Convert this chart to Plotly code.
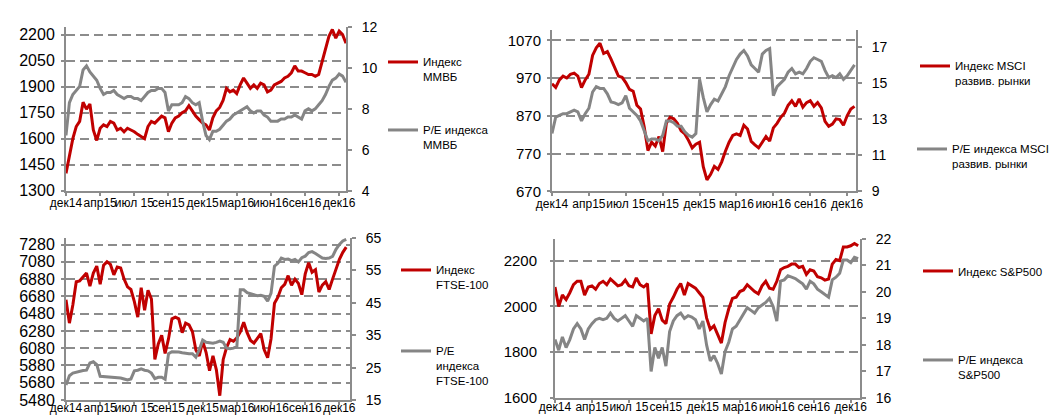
import plotly.graph_objects as go

# ---------------- data ----------------
tick_labels = ["дек14", "апр15", "июл 15", "сен15", "дек15", "мар16", "июн16", "сен16", "дек16"]
tick_pos = [0, 10, 20, 30, 40, 50, 60, 70, 80]

mmvb_index = [1400, 1500, 1600, 1670, 1700, 1810, 1770, 1800, 1650, 1590,
              1660, 1680, 1670, 1700, 1690, 1650, 1660, 1640, 1660, 1650,
              1640, 1625, 1610, 1600, 1670, 1700, 1690, 1710, 1730, 1720,
              1640, 1690, 1720, 1730, 1750, 1760, 1790, 1760, 1730, 1710,
              1690, 1680, 1650, 1720, 1760, 1780, 1820, 1890, 1870, 1880,
              1860, 1910, 1950, 1920, 1890, 1910, 1890, 1920, 1910, 1870,
              1880, 1910, 1920, 1930, 1950, 1960, 1980, 2020, 1990, 1990,
              1980, 1970, 1970, 1960, 1970, 2040, 2120, 2190, 2230, 2180,
              2220, 2200, 2150]
mmvb_pe = [6.7, 8.3, 8.7, 8.9, 9.1, 9.9, 10.1, 9.8, 9.6, 9.4,
           9.0, 8.7, 8.8, 8.8, 8.9, 8.7, 8.6, 8.5, 8.6, 8.6,
           8.5, 8.5, 8.4, 8.6, 8.8, 8.9, 8.9, 9.0, 9.0, 8.8,
           7.9, 8.2, 8.2, 8.2, 8.3, 8.6, 8.5, 8.3, 8.2, 8.3,
           7.4, 6.7, 6.5, 6.9, 6.9, 7.0, 7.2, 7.4, 7.5, 7.7,
           7.8, 7.9, 8.0, 8.1, 7.9, 7.8, 7.9, 7.9, 7.7, 7.6,
           7.4, 7.4, 7.4, 7.5, 7.5, 7.6, 7.6, 7.7, 7.6, 7.5,
           7.9, 8.0, 7.9, 8.0, 8.2, 8.4, 8.7, 9.1, 9.4, 9.5,
           9.7, 9.6, 9.3]

msci_index = [955, 945, 965, 975, 970, 980, 983, 975, 945, 965,
              980, 1030, 1050, 1062, 1035, 1040, 1020, 995, 975, 972,
              958, 940, 935, 898, 888, 840, 778, 800, 790, 815,
              775, 850, 866, 862, 850, 830, 822, 805, 785, 795,
              800, 735, 700, 715, 736, 728, 748, 776, 800, 818,
              822, 818, 845, 835, 802, 793, 785, 800, 815, 803,
              838, 850, 866, 877, 898, 910, 895, 915, 893, 905,
              910, 895, 905, 891, 855, 842, 848, 862, 860, 845,
              870, 888, 895]
msci_pe = [12.2, 13.1, 13.2, 13.3, 13.3, 13.4, 13.5, 13.4, 12.9, 13.3,
           13.6, 14.5, 14.8, 14.7, 14.7, 14.4, 13.95, 13.9, 13.8, 13.9,
           14.3, 13.6, 13.4, 13.2, 12.9, 12.4, 11.8, 11.9, 11.9, 11.8,
           12.1, 12.9, 12.9, 12.8, 12.6, 12.6, 12.3, 12.1, 12.0, 12.2,
           15.2, 14.2, 13.4, 13.8, 14.1, 14.0, 14.4, 14.8, 15.4, 15.9,
           16.3, 16.6, 16.8, 16.5, 16.0, 15.8, 15.6, 16.6, 16.8, 16.9,
           14.3, 14.8, 15.0, 15.2, 15.6, 15.8, 15.5, 15.6, 15.5, 15.8,
           16.2, 16.4, 16.3, 16.2, 15.7, 15.3, 15.4, 15.3, 15.5, 15.2,
           15.4, 15.7, 16.0]

ftse_index = [6640, 6370, 6580, 6850, 6860, 6900, 6950, 6800, 6950, 7030,
              6820, 7040, 7080, 7050, 6930, 7020, 7010, 6880, 6790, 6760,
              6620, 6440, 6780, 6520, 6750, 6650, 5950, 6130, 6230, 6020,
              6190, 6420, 6440, 6420, 6260, 6370, 6350, 6270, 6060, 5990,
              6160, 6030, 5820, 5990, 5830, 5530, 5950, 6090, 6180, 6160,
              6200, 6270, 6380, 6260, 6170, 6140, 6200, 6250, 6060, 5970,
              6190, 6600, 6670, 6780, 6820, 6920, 6810, 6880, 6830, 6700,
              6940, 7070, 6960, 6990, 6730, 6810, 6850, 6760, 6880, 7000,
              7110, 7190, 7250]
ftse_pe = [19.6, 22.5, 23.3, 23.6, 24.0, 24.1, 24.2, 26.4, 26.8, 25.9,
           22.3, 22.2, 22.3, 22.2, 22.1, 22.0, 21.8, 21.5, 21.2, 21.5,
           24.0, 24.2, 24.6, 24.2, 24.0, 23.3, 21.6, 22.0, 22.0, 21.4,
           29.3, 29.9, 29.9, 29.8, 29.6, 29.4, 29.3, 29.3, 28.2, 30.5,
           33.5, 32.8, 32.7, 32.5, 32.8, 33.2, 32.8, 31.0, 30.8, 31.0,
           31.5, 49.0, 49.0, 48.1, 47.8, 47.4, 47.2, 47.3, 47.0, 45.5,
           48.0, 56.3, 57.2, 58.8, 58.4, 58.5, 58.0, 58.4, 57.6, 58.9,
           59.4, 60.5, 60.8, 60.2, 59.6, 58.8, 58.7, 58.8, 59.3, 61.5,
           63.0, 64.1, 64.6]

spx_index = [2085, 2000, 2050, 2030, 2060, 2095, 2110, 2110, 2050, 2085,
             2090, 2075, 2100, 2110, 2095, 2120, 2105, 2090, 2095, 2115,
             2090, 2085, 2125, 2095, 2085, 2100, 1880, 1960, 1990, 1940,
             1925, 2010, 2040, 2075, 2100, 2050, 2100, 2090, 2080, 2060,
             2040, 1950, 1900, 1915, 1880, 1840, 1930, 1990, 2035, 2040,
             2065, 2072, 2095, 2080, 2065, 2055, 2090, 2110, 2080, 2075,
             2110, 2160, 2170, 2175, 2185, 2185, 2170, 2175, 2140, 2160,
             2155, 2130, 2125, 2115, 2120, 2185, 2205, 2200, 2260, 2260,
             2265, 2275, 2265]
spx_pe = [18.2, 17.8, 18.3, 17.9, 18.2, 18.6, 18.8, 18.6, 18.2, 18.6,
          18.8, 18.95, 19.0, 18.95, 19.0, 19.2, 19.0, 18.9, 19.0, 19.1,
          18.9, 18.7, 19.1, 19.0, 18.9, 19.0, 17.0, 17.9, 17.5, 17.9,
          17.2, 18.5, 18.9, 19.1, 19.2, 19.0, 19.1, 19.05, 18.95, 18.6,
          18.9, 18.0, 17.4, 17.6, 17.3, 16.9, 17.75, 18.1, 18.6, 18.7,
          18.95, 19.2, 19.4, 19.3, 19.2, 19.4, 19.5, 19.6, 19.75, 19.45,
          18.9, 20.4, 20.45, 20.6, 20.55, 20.5, 20.4, 20.3, 20.1, 20.4,
          20.3, 20.1, 20.0, 19.9, 19.8, 20.45, 20.55, 20.7, 21.2, 21.2,
          21.1, 21.3, 21.25]

# ---------------- style ----------------
RED = "#c00000"
GRAY = "#858585"
AX = "#8c8c8c"
FONT = "Liberation Sans, Arial, sans-serif"
W, H = 1058, 417


def px_x(v):
    return v / W


def px_y(v):
    return 1 - v / H


fig = go.Figure()

panels = [
    (mmvb_index, mmvb_pe, "Индекс<br>ММВБ", "P/E индекса<br>ММВБ", "x", "y", "y2", "legend", "legend2"),
    (msci_index, msci_pe, "Индекс MSCI<br>развив. рынки", "P/E индекса MSCI<br>развив. рынки", "x2", "y3", "y4", "legend3", "legend4"),
    (ftse_index, ftse_pe, "Индекс<br>FTSE-100", "P/E<br>индекса<br>FTSE-100", "x3", "y5", "y6", "legend5", "legend6"),
    (spx_index, spx_pe, "Индекс S&P500", "P/E индекса<br>S&P500", "x4", "y7", "y8", "legend7", "legend8"),
]

for idx, pe, n1, n2, xa, yl, yr, lg1, lg2 in panels:
    fig.add_trace(go.Scatter(x=list(range(len(idx))), y=idx, name=n1, mode="lines", showlegend=True,
                             line=dict(color=RED, width=3), xaxis=xa, yaxis=yl, legend=lg1))
    fig.add_trace(go.Scatter(x=list(range(len(pe))), y=pe, name=n2, mode="lines", showlegend=True,
                             line=dict(color=GRAY, width=3), xaxis=xa, yaxis=yr, legend=lg2))


def xaxis(dom, rng, anchor, standoff):
    return dict(domain=dom, range=rng, anchor=anchor, tickvals=tick_pos, ticktext=tick_labels,
                tickangle=0, showline=True, linecolor=AX, linewidth=2, ticks="outside",
                ticklen=3, tickcolor=AX, tickwidth=1.5, showgrid=False, zeroline=False,
                automargin=False, ticklabelstandoff=standoff,
                tickfont=dict(size=12, color="#000", family=FONT))


def yleft(dom, rng, vals, size, standoff, anchor):
    return dict(domain=dom, range=rng, tickvals=vals, anchor=anchor, showline=True, linecolor=AX,
                linewidth=2, ticks="outside", ticklen=3, tickcolor=AX, tickwidth=1.5,
                showgrid=True, gridcolor=AX, gridwidth=1.5, griddash="9px,5px", zeroline=False,
                automargin=False,
                tickfont=dict(size=size, color="#000", family=FONT), ticklabelstandoff=standoff)


def yright(over, rng, vals, anchor):
    return dict(overlaying=over, side="right", anchor=anchor, range=rng, tickvals=vals,
                showline=True, linecolor=AX, linewidth=2, ticks="outside", ticklen=4,
                tickcolor=AX, tickwidth=1.5, showgrid=False, zeroline=False, automargin=False,
                tickfont=dict(size=14, color="#000", family=FONT), ticklabelstandoff=7)


p1x = [px_x(58), px_x(338)]
p1y = [px_y(182.7), px_y(19)]
p2x = [px_x(544), px_x(848)]
p2y = [px_y(183.3), px_y(21.7)]
p3x = [px_x(58), px_x(342)]
p3y = [px_y(392), px_y(230)]
p4x = [px_x(547), px_x(852)]
p4y = [px_y(390), px_y(230.7)]

layout = dict(
    width=W, height=H,
    margin=dict(l=0, r=0, t=0, b=0, autoexpand=False),
    showlegend=True,
    paper_bgcolor="white", plot_bgcolor="white",
    font=dict(family=FONT, color="#000"),
    xaxis=xaxis(p1x, [0, 82], "y", -3),
    yaxis=yleft(p1y, [1300, 2244], [1300, 1450, 1600, 1750, 1900, 2050, 2200], 16, 3, "x"),
    yaxis2=yright("y", [4, 12], [4, 6, 8, 10, 12], "x"),
    xaxis2=xaxis(p2x, [0, 82.4], "y3", -3),
    yaxis3=yleft(p2y, [670, 1098], [670, 770, 870, 970, 1070], 15, 3, "x2"),
    yaxis4=yright("y3", [9, 17.95], [9, 11, 13, 15, 17], "x2"),
    xaxis3=xaxis(p3x, [0, 83.1], "y5", -7),
    yaxis5=yleft(p3y, [5480, 7356], [5480, 5680, 5880, 6080, 6280, 6480, 6680, 6880, 7080, 7280], 16, 3, "x3"),
    yaxis6=yright("y5", [15, 65], [15, 25, 35, 45, 55, 65], "x3"),
    xaxis4=xaxis(p4x, [0, 82.5], "y7", -6),
    yaxis7=yleft(p4y, [1600, 2296], [1600, 1800, 2000, 2200], 15, 10, "x4"),
    yaxis8=yright("y7", [16, 22], [16, 17, 18, 19, 20, 21, 22], "x4"),
)


def leg(tx, ly):
    # tx: left edge of the legend text, ly: vertical centre of the legend line (pixels)
    return dict(x=px_x(tx - 48), y=px_y(ly - 22), xanchor="left", yanchor="top", valign="top",
                bgcolor="rgba(0,0,0,0)", borderwidth=0,
                font=dict(size=11.5, color="#000", family=FONT))


layout["legend"] = leg(423, 62)
layout["legend2"] = leg(423, 130)
layout["legend3"] = leg(955, 66)
layout["legend4"] = leg(952, 149)
layout["legend5"] = leg(436, 270)
layout["legend6"] = leg(436, 351)
layout["legend7"] = leg(958, 271)
layout["legend8"] = leg(958, 360)

fig.update_layout(**layout)
fig.write_html("out.html")
